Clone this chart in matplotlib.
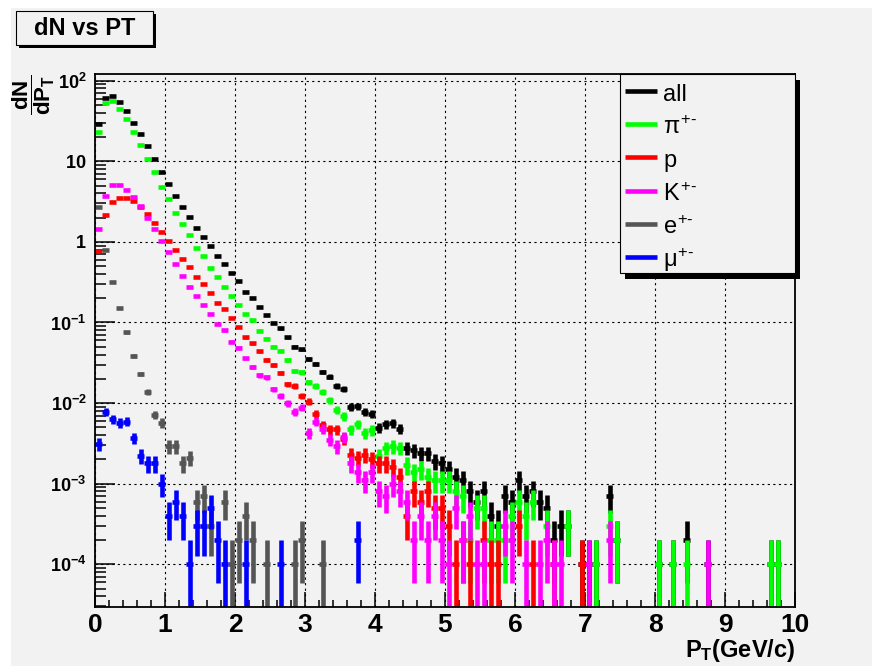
import numpy as np
import matplotlib
matplotlib.use("Agg")
import matplotlib.pyplot as plt
from matplotlib.patches import Rectangle
from matplotlib.lines import Line2D
from matplotlib.ticker import MultipleLocator, LogLocator, NullFormatter, FixedLocator, FixedFormatter

# ---------------- data ----------------
pt_min, pt_max, bin_width = 0.0, 10.0, 0.1      # 100 bins in P_T (GeV/c)
entry_weight = 1e-4                              # dN/dP_T of a single entry

all_vals = [
    29, 61, 64, 54.5, 41.7, 30.1, 21.6, 15.3, 10.6, 7.38,
    5.29, 3.75, 2.71, 2.02, 1.49, 1.14, 0.88, 0.66, 0.53, 0.41,
    0.325, 0.242, 0.199, 0.154, 0.123, 0.0977, 0.0847, 0.0655, 0.050, 0.0464,
    0.0349, 0.0308, 0.0243, 0.0212, 0.0163, 0.0151, 0.0090, 0.0092, 0.0077, 0.0074,
    0.0049, 0.0055, 0.0056, 0.0048, 0.0028, 0.0026, 0.0024, 0.0024, 0.0019, 0.0018,
    0.0015, 0.0012, 0.0011, 0.0008, 0.0006, 0.0008, 0.0004, 0.0003, 0.0007, 0.0006,
    0.0011, 0.0007, 0.0008, 0.0006, 0.0005, 0.0002, 0.0003, 0.0003, 0, 0.0001,
    0.0001, 0.0001, 0, 0.0007, 0.0002, 0, 0, 0, 0, 0,
    0.0001, 0, 0.0001, 0, 0.0002, 0, 0, 0.0001, 0, 0,
    0, 0, 0, 0, 0, 0, 0.0001, 0.0001, 0, 0,
]
pi_vals = [
    23.1, 52.4, 56.5, 45.0, 33.5, 23.1, 15.9, 10.6, 7.3, 4.86,
    3.38, 2.31, 1.66, 1.20, 0.85, 0.66, 0.47, 0.365, 0.279, 0.214,
    0.165, 0.128, 0.106, 0.079, 0.063, 0.050, 0.0447, 0.0339, 0.025, 0.024,
    0.0182, 0.0164, 0.0136, 0.0109, 0.0083, 0.0069, 0.0047, 0.0055, 0.0042, 0.0046,
    0.0022, 0.0028, 0.0029, 0.0028, 0.0017, 0.0014, 0.0015, 0.0012, 0.0011, 0.0011,
    0.0011, 0.0008, 0.0007, 0.0002, 0.0005, 0.0005, 0.0002, 0.0002, 0.0002, 0.0004,
    0.0006, 0.0004, 0.0006, 0, 0.0003, 0, 0, 0.0003, 0, 0,
    0, 0.0001, 0, 0.0003, 0.0002, 0, 0, 0, 0, 0,
    0.0001, 0, 0.0001, 0, 0.0001, 0, 0, 0, 0, 0,
    0, 0, 0, 0, 0, 0, 0.0001, 0.0001, 0, 0,
]
p_vals = [
    0.77, 2.14, 3.1, 3.51, 3.51, 3.25, 2.7, 2.24, 1.72, 1.33,
    1.03, 0.80, 0.61, 0.49, 0.368, 0.30, 0.233, 0.174, 0.145, 0.115,
    0.0887, 0.0655, 0.055, 0.0438, 0.0339, 0.0299, 0.0238, 0.0172, 0.0163, 0.0122,
    0.0104, 0.0074, 0.0053, 0.0047, 0.0047, 0.0036, 0.0023, 0.0021, 0.0023, 0.0020,
    0.0018, 0.0018, 0.0016, 0.0012, 0.0004, 0.0008, 0.0006, 0.0008, 0.0005, 0.0005,
    0.0003, 0.0001, 0.0002, 0.0001, 0, 0.0002, 0.0001, 0.0001, 0, 0,
    0.0003, 0, 0.0001, 0, 0, 0.0001, 0, 0, 0, 0.0001,
    0, 0, 0, 0, 0, 0, 0, 0, 0, 0,
    0, 0, 0, 0, 0, 0, 0, 0, 0, 0,
    0, 0, 0, 0, 0, 0, 0, 0, 0, 0,
]
k_vals = [
    1.44, 3.75, 5.04, 5.04, 4.36, 3.61, 2.77, 2.0, 1.44, 1.02,
    0.74, 0.53, 0.375, 0.279, 0.216, 0.166, 0.127, 0.095, 0.080, 0.058,
    0.0487, 0.0359, 0.0283, 0.0221, 0.0208, 0.0148, 0.0122, 0.0099, 0.0077, 0.0088,
    0.0042, 0.0059, 0.0048, 0.0035, 0.0029, 0.0038, 0.0018, 0.0014, 0.0011, 0.0014,
    0.0008, 0.0007, 0.0010, 0.0008, 0.0006, 0.0002, 0.0004, 0.0002, 0.0004, 0.0002,
    0.0001, 0.0005, 0.0002, 0.0004, 0.0001, 0.0001, 0, 0, 0.0003, 0.0002,
    0, 0.0001, 0, 0.0001, 0.0002, 0.0001, 0.0001, 0, 0, 0,
    0.0001, 0, 0, 0.0002, 0, 0, 0, 0, 0, 0,
    0, 0, 0, 0, 0, 0, 0, 0.0001, 0, 0,
    0, 0, 0, 0, 0, 0, 0, 0, 0, 0,
]
e_vals = [
    2.7, 0.79, 0.316, 0.15, 0.0755, 0.0387, 0.0229, 0.0137, 0.0071, 0.0057,
    0.0029, 0.0029, 0.0018, 0.0021, 0.0006, 0.0007, 0.0003, 0, 0.0006, 0.0001,
    0.0002, 0.0004, 0.0002, 0, 0.0001, 0, 0, 0, 0.0001, 0.0002,
    0, 0, 0.0001, 0, 0, 0, 0, 0, 0, 0,
] + [0] * 60
mu_vals = [
    0.0031, 0.0078, 0.0063, 0.0057, 0.0059, 0.0037, 0.0022, 0.0018, 0.0018, 0.0010,
    0.0004, 0.0006, 0.0004, 0.0001, 0.0003, 0.0003, 0.0005, 0.0002, 0.0001, 0,
    0, 0.0001, 0, 0, 0, 0, 0.0001, 0, 0, 0,
    0, 0, 0, 0, 0, 0, 0, 0.0002, 0, 0,
] + [0] * 60

series_labels = ["all", r"$\pi^{+\text{-}}$", "p", r"$K^{+\text{-}}$", r"$e^{+\text{-}}$",
                 r"$\mu^{+\text{-}}$"]
series_colors = ["#000000", "#00ff00", "#ff0000", "#ff00ff", "#555555", "#0000ff"]
series_values = [all_vals, pi_vals, p_vals, k_vals, e_vals, mu_vals]

x_tick_vals = [0, 1, 2, 3, 4, 5, 6, 7, 8, 9, 10]
y_tick_vals = [1e-4, 1e-3, 1e-2, 1e-1, 1, 10, 100]
y_tick_labels = [r"$\mathbf{10^{-4}}$", r"$\mathbf{10^{-3}}$", r"$\mathbf{10^{-2}}$",
                 r"$\mathbf{10^{-1}}$", r"$\mathbf{1}$", r"$\mathbf{10}$", r"$\mathbf{10^{2}}$"]
y_range = (2.95e-5, 121)

# ---------------- style ----------------
plt.rcParams["font.family"] = ["Liberation Sans", "DejaVu Sans"]
plt.rcParams["mathtext.fontset"] = "custom"
plt.rcParams["mathtext.rm"] = "Liberation Sans"
plt.rcParams["mathtext.it"] = "Liberation Sans"
plt.rcParams["mathtext.bf"] = "Liberation Sans:bold"

W, H = 872, 666
BG = "#f2f2f2"
fig = plt.figure(figsize=(W / 100, H / 100), dpi=100)
fig.patch.set_facecolor("white")


def fx(px):
    return px / W


def fy(py):
    return 1 - py / H


# canvas background
fig.add_artist(Rectangle((fx(11), 0), 1 - fx(11), fy(8), transform=fig.transFigure,
                         facecolor=BG, edgecolor="none", zorder=-10))

ax = fig.add_axes([fx(95), fy(607), fx(795) - fx(95), fy(74) - fy(607)])
ax.set_facecolor(BG)
ax.set_yscale("log")
ax.set_xlim(pt_min, pt_max)
ax.set_ylim(*y_range)
ax.set_axisbelow(True)

for s in ax.spines.values():
    s.set_linewidth(1.3)

ax.xaxis.set_major_locator(FixedLocator(x_tick_vals))
ax.xaxis.set_minor_locator(MultipleLocator(0.2))
ax.yaxis.set_major_locator(FixedLocator(y_tick_vals))
ax.yaxis.set_major_formatter(FixedFormatter(y_tick_labels))
ax.yaxis.set_minor_locator(LogLocator(base=10, subs=np.arange(2, 10), numticks=30))
ax.yaxis.set_minor_formatter(NullFormatter())

ax.tick_params(axis="x", which="major", direction="in", length=11, width=1.1,
               top=False, labelsize=19, pad=4)
ax.tick_params(axis="x", which="minor", direction="in", length=5.2, width=1.1, top=False)
ax.tick_params(axis="y", which="major", direction="in", length=14.5, width=1.1,
               right=False, labelsize=13, pad=6)
ax.tick_params(axis="y", which="minor", direction="in", length=8, width=1.1, right=False)
for lab in ax.get_xticklabels():
    lab.set_fontweight("bold")

ax.grid(True, which="major", color="black", linestyle=(0, (2.0, 3.0)), linewidth=0.8)

# ---------------- histograms with error bars ----------------
n_bins = int(round((pt_max - pt_min) / bin_width))
centers = pt_min + bin_width * (np.arange(n_bins) + 0.5)
for vals, color in zip(series_values, series_colors):
    v = np.asarray(vals, dtype=float)
    m = v > 0
    x = centers[m]
    y = v[m]
    err = np.sqrt(y * entry_weight)
    lo = y - np.maximum(y - err, 1e-9)
    eb = ax.errorbar(x, y, xerr=bin_width / 2, yerr=[lo, err], fmt="none",
                     ecolor=color, elinewidth=3.3, capsize=0)
    for c in eb[2]:
        c.set_capstyle("butt")

# ---------------- title box ----------------
fig.add_artist(Rectangle((fx(18.5), fy(47.5)), fx(153) - fx(16), fy(11) - fy(45),
                         transform=fig.transFigure, facecolor="black", edgecolor="none", zorder=5))
fig.add_artist(Rectangle((fx(16), fy(45)), fx(153) - fx(16), fy(11) - fy(45),
                         transform=fig.transFigure, facecolor=BG, edgecolor="black",
                         linewidth=0.8, zorder=6))
fig.text(fx(84.5), fy(28.5), "dN vs PT", ha="center", va="center", fontsize=17,
         fontweight="bold", zorder=7)

# ---------------- legend ----------------
lx0, ly0, lx1, ly1 = 620, 74, 795, 273
fig.add_artist(Rectangle((fx(lx0 + 4.5), fy(ly1 + 6)), fx(lx1) - fx(lx0), fy(ly0) - fy(ly1),
                         transform=fig.transFigure, facecolor="black", edgecolor="none", zorder=5))
fig.add_artist(Rectangle((fx(lx0), fy(ly1)), fx(lx1) - fx(lx0), fy(ly0) - fy(ly1),
                         transform=fig.transFigure, facecolor=BG, edgecolor="black",
                         linewidth=0.8, zorder=6))
row_y = [91, 124, 157, 191, 224, 257]
for yy, lab, col in zip(row_y, series_labels, series_colors):
    fig.add_artist(Line2D([fx(625), fx(657)], [fy(yy), fy(yy)], transform=fig.transFigure,
                          color=col, linewidth=3.3, solid_capstyle="butt", zorder=7))
    fig.text(fx(663), fy(yy + 10), lab, ha="left", va="baseline", fontsize=17,
             fontweight="normal", zorder=7)

# ---------------- axis titles ----------------
fig.text(fx(795), fy(657), r"P$_{\mathbf{T}}$(GeV/c)", ha="right", va="baseline",
         fontsize=17, fontweight="bold")
fig.text(fx(34), fy(95), r"$\dfrac{\mathbf{dN}}{\mathbf{dP_{T}}}$", rotation=90,
         ha="center", va="center", fontsize=16)

fig.savefig("out.png", dpi=100, facecolor=fig.get_facecolor())
